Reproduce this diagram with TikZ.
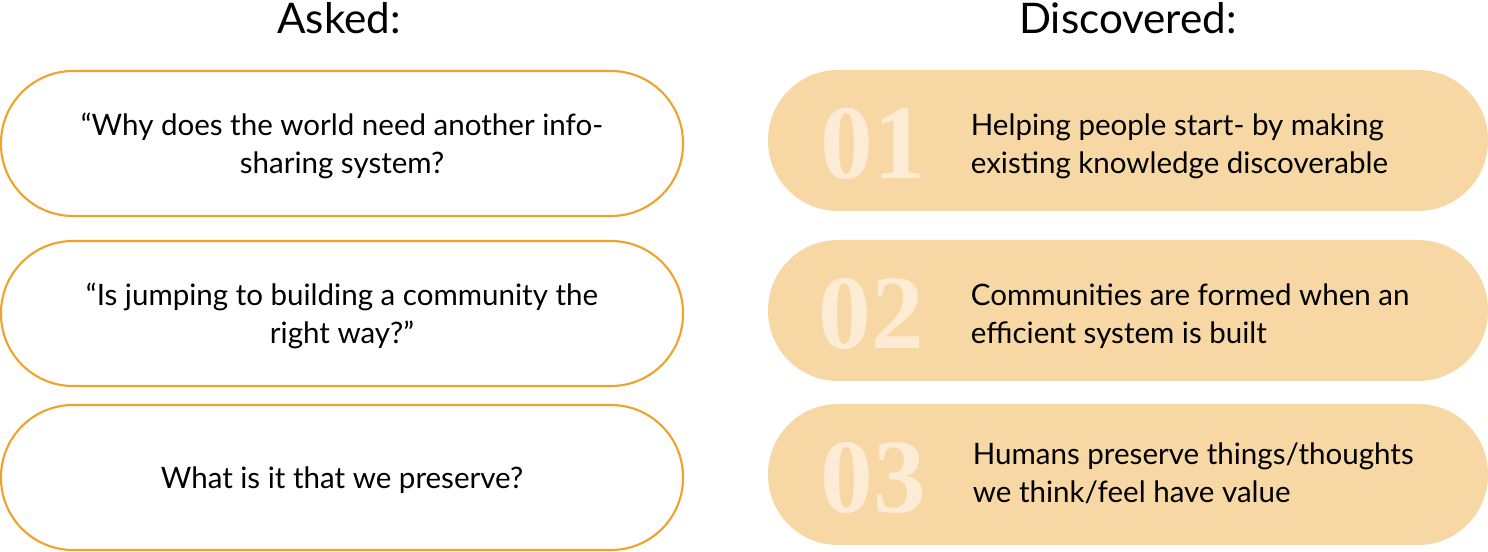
\documentclass[tikz,border=0pt]{standalone}
\usepackage{fontspec}
\setmainfont{Lato}
\newfontfamily\numfont{Liberation Serif}
\usetikzlibrary{positioning}
\definecolor{askline}{HTML}{F0A22A}
\definecolor{findfill}{HTML}{F7D8A4}
\definecolor{numcol}{HTML}{FCECD6}

\begin{document}
\begin{tikzpicture}[every node/.style={align=center,font=\fontsize{16.8}{21.6}\selectfont},
  askbox/.style={draw=askline,line width=1.2pt,fill=white,rounded corners=1.44cm,minimum width=13.64cm,minimum height=2.9cm,text depth=0pt},
  findbox/.style={fill=findfill,rounded corners=1.4cm,minimum width=14.4cm,minimum height=2.82cm},
  numtxt/.style={text=numcol,font=\numfont\bfseries\fontsize{60}{60}\selectfont},
  findtxt/.style={anchor=west,align=left}]
\useasboundingbox (0,0) rectangle (29.76,-11.04);
% headings
\node[font=\fontsize{24}{28}\selectfont] (asked) at (6.78,-0.36) {Asked:};
\node[font=\fontsize{24}{28}\selectfont] (disc) at (22.56,-0.36) {Discovered:};
% left column
\node[askbox] (a1) at (6.84,-2.87) {``Why does the world need another info-\\sharing system?};
\node[askbox] (a2) at (6.84,-6.27) {``Is jumping to building a community the\\right way?''};
\node[askbox] (a3) at (6.84,-9.55) {What is it that we preserve?};
% right column
\node[findbox] (f1) at (22.56,-2.81) {};
\node[findbox] (f2) at (22.56,-6.21) {};
\node[findbox] (f3) at (22.56,-9.49) {};
\node[numtxt] (n1) at ([xshift=2.12cm,yshift=-0.06cm]f1.west) {01};
\node[numtxt] (n2) at ([xshift=2.08cm,yshift=-0.06cm]f2.west) {02};
\node[numtxt] (n3) at ([xshift=2.12cm,yshift=-0.06cm]f3.west) {03};
\node[findtxt] (t1) at ([xshift=3.94cm,yshift=-0.12cm]f1.west) {Helping people start- by making\\existing knowledge discoverable};
\node[findtxt] (t2) at ([xshift=3.94cm,yshift=-0.12cm]f2.west) {Communities are formed when an\\efficient system is built};
\node[findtxt] (t3) at ([xshift=3.98cm,yshift=0.02cm]f3.west) {Humans preserve things/thoughts\\we think/feel have value};
\end{tikzpicture}
\end{document}
